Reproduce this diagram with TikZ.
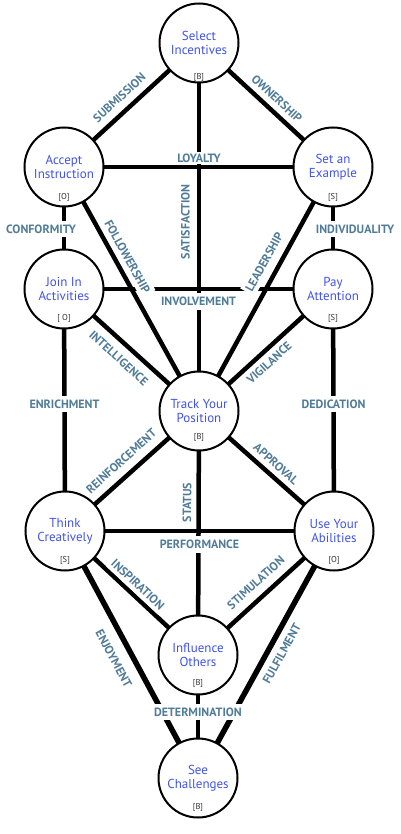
\documentclass[tikz,border=0pt]{standalone}
\usepackage{fontspec}
\setmainfont{PT Sans}
\definecolor{nodeblue}{RGB}{64,84,232}
\definecolor{lblcol}{RGB}{80,124,152}
\definecolor{tagcol}{RGB}{50,50,50}
\pgfdeclarelayer{bg}
\pgfsetlayers{bg,main}
\tikzset{
  state/.style={circle, draw, line width=2pt, fill=white, minimum size=79pt, inner sep=0pt,
    align=center, text=nodeblue, font=\fontsize{13}{14}\selectfont},
  tag/.style={font=\fontsize{8.5}{9}\selectfont, text=tagcol, inner sep=0pt},
  link/.style={line width=4.5pt},
  heavy/.style={line width=5.5pt},
  lbl/.style={font=\bfseries\fontsize{12}{12}\selectfont, text=lblcol, fill=white,
    inner xsep=2pt, inner ysep=4pt}
}
\begin{document}
\begin{tikzpicture}[x=1pt,y=-1pt]
\useasboundingbox (0,0) rectangle (400,834);
% nodes
\node[state] (sel)  at (199,43)  {Select\\Incentives};
\node[state] (acc)  at (64,167)  {Accept\\Instruction};
\node[state] (set)  at (333,167) {Set an\\Example};
\node[state] (join) at (64,289)  {Join In\\Activities};
\node[state] (pay)  at (333,289) {Pay\\Attention};
\node[state] (trk)  at (199,411) {Track Your\\Position};
\node[state] (thk)  at (65,531)  {Think\\Creatively};
\node[state] (use)  at (334,531) {Use Your\\Abilities};
\node[state] (inf)  at (198,655) {Influence\\Others};
\node[state] (see)  at (198,778) {See\\Challenges};
% tags
\node[tag] (sel-t)  at (199,77)  {[B]};
\node[tag] (acc-t)  at (64,197)  {[O]};
\node[tag] (set-t)  at (333,197) {[S]};
\node[tag] (join-t) at (64,318)  {[ O]};
\node[tag] (pay-t)  at (333,318) {[S]};
\node[tag] (trk-t)  at (199,437) {[B]};
\node[tag] (thk-t)  at (65,560)  {[S]};
\node[tag] (use-t)  at (334,560) {[O]};
\node[tag] (inf-t)  at (198,683) {[B]};
\node[tag] (see-t)  at (198,807) {[B]};
% connectors
\begin{pgfonlayer}{bg}
\fill[white] (0,0) rectangle (400,834);
\draw[link] (acc.center) -- (sel.center);
\draw[link] (sel.center) -- (set.center);
\draw[link] (sel.center) -- (trk.center);
\draw[link] (acc.center) -- (set.center);
\draw[link] (acc.center) -- (join.center);
\draw[link] (set.center) -- (pay.center);
\draw[link] (acc.center) -- (trk.center);
\draw[link] (set.center) -- (trk.center);
\draw[link] (join.center) -- (pay.center);
\draw[link] (join.center) -- (trk.center);
\draw[link] (pay.center) -- (trk.center);
\draw[link] (join.center) -- (thk.center);
\draw[link] (pay.center) -- (use.center);
\draw[link] (thk.center) -- (trk.center);
\draw[link] (trk.center) -- (use.center);
\draw[link] (trk.center) -- (inf.center);
\draw[link] (thk.center) -- (use.center);
\draw[link] (thk.center) -- (inf.center);
\draw[link] (inf.center) -- (use.center);
\draw[heavy] (thk.center) -- (see.center);
\draw[heavy] (see.center) -- (use.center);
\draw[link] (inf.center) -- (see.center);
\end{pgfonlayer}
% connector labels
\path (acc.center) -- (sel.center) node[lbl, sloped, pos=.478, above=5pt] {SUBMISSION};
\path (sel.center) -- (set.center) node[lbl, sloped, pos=.52, above=3.5pt] {OWNERSHIP};
\path (acc.center) -- (set.center) node[lbl, pos=.502, above=2.5pt, inner ysep=2pt] {LOYALTY};
\path (trk.center) -- (sel.center) node[lbl, sloped, pos=.514, above=5pt] {SATISFACTION};
\path (acc.center) -- (join.center) node[lbl, pos=.508, xshift=-23pt] {CONFORMITY};
\path (set.center) -- (pay.center) node[lbl, pos=.508, xshift=22pt] {INDIVIDUALITY};
\path (acc.center) -- (trk.center) node[lbl, sloped, pos=.392, above=3.5pt] {FOLLOWERSHIP};
\path (trk.center) -- (set.center) node[lbl, sloped, pos=.582, above=6pt] {LEADERSHIP};
\path (join.center) -- (pay.center) node[lbl, pos=.5, below=4pt] {INVOLVEMENT};
\path (join.center) -- (trk.center) node[lbl, sloped, pos=.478, below=6pt] {INTELLIGENCE};
\path (trk.center) -- (pay.center) node[lbl, sloped, pos=.465, below=3pt] {VIGILANCE};
\path (join.center) -- (thk.center) node[lbl, pos=.475] {ENRICHMENT};
\path (pay.center) -- (use.center) node[lbl, pos=.475] {DEDICATION};
\path (thk.center) -- (trk.center) node[lbl, sloped, pos=.492, above=6pt] {REINFORCEMENT};
\path (trk.center) -- (use.center) node[lbl, sloped, pos=.514, above=3pt] {APPROVAL};
\path (inf.center) -- (trk.center) node[lbl, sloped, pos=.625, above=3pt] {STATUS};
\path (thk.center) -- (use.center) node[lbl, pos=.5, below=5pt] {PERFORMANCE};
\path (thk.center) -- (inf.center) node[lbl, sloped, pos=.494, above=2pt] {INSPIRATION};
\path (inf.center) -- (use.center) node[lbl, sloped, pos=.497, above=6pt] {STIMULATION};
\path (thk.center) -- (see.center) node[lbl, sloped, pos=.483, below=9pt] {ENJOYMENT};
\path (see.center) -- (use.center) node[lbl, sloped, pos=.529, below=5pt] {FULFILMENT};
\path (inf.center) -- (see.center) node[lbl, pos=.463] {DETERMINATION};
\end{tikzpicture}
\end{document}
